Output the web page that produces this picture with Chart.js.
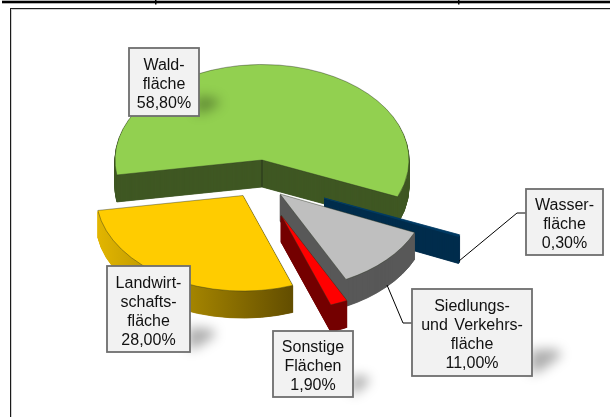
<!DOCTYPE html>
<html>
<head>
<meta charset="utf-8">
<style>html,body{margin:0;padding:0;background:#fff}canvas{display:block}</style>
<script src="https://cdn.jsdelivr.net/npm/chart.js@4"></script>
</head>
<body>
<canvas id="c" width="610" height="417"></canvas>
<script>
// Data
const categories = ["Waldfläche", "Wasserfläche", "Siedlungs- und Verkehrsfläche", "Sonstige Flächen", "Landwirtschaftsfläche"];
const values = [58.8, 0.3, 11.0, 1.9, 28.0];
const labelLines = [["Wald-", "fläche"], ["Wasser-", "fläche"], ["Siedlungs-", "und Verkehrs-", "fläche"], ["Sonstige", "Flächen"], ["Landwirt-", "schafts-", "fläche"]];

// Styling / layout
const topColors = ["#92d050", "#003a63", "#bfbfbf", "#ff0000", "#ffcc00"];
const sideColors = ["#3f5723", "#002d4d", "#595959", "#750000", null];
const sliceCenters = [[262, 160], [324, 198], [280, 194], [281, 215], [243, 195.5]];
const drawOrder = [0, 1, 2, 3, 4];
const depth = 27, tilt = 0.65;
const boxes = [[129, 48, 70, 68], [526, 189, 77, 66], [412, 289, 120, 87], [273, 331, 80, 66], [107, 266, 83, 86]];
const leaders = [null, [[459, 261], [517, 213], [526, 213]], [[387, 285], [403, 323], [412, 323]], null, null];
const shadows = [
  [[196, 96], [216, 98], [220, 104], [205, 112], [196, 114]],
  null,
  [[530, 350], [556, 349], [562, 355], [542, 370], [530, 374]],
  [[351, 376], [366, 376], [370, 381], [358, 392], [351, 394]],
  [[188, 327], [212, 329], [216, 335], [198, 347], [188, 350]]
];

function drawArcAt(ctx, arc, cx, cy, opts) {
  const saved = arc.options;
  arc.options = Object.assign({}, saved, opts);
  ctx.save();
  ctx.translate(cx, cy);
  ctx.scale(1, tilt);
  ctx.translate(-arc.x, -arc.y);
  arc.draw(ctx);
  ctx.restore();
  arc.options = saved;
}

const piePlugin = {
  id: "tiltedPie",
  beforeDraw(chart) {
    const ctx = chart.ctx;
    ctx.save();
    ctx.fillStyle = "#000";
    ctx.fillRect(2, 0.7, 608, 2.6);
    ctx.fillRect(155, 0, 1.5, 4.5);
    ctx.fillRect(458, 0, 1.5, 4.5);
    ctx.fillStyle = "#d0d0d0";
    ctx.fillRect(11, 9, 599, 1);
    ctx.fillRect(11, 9, 1, 408);
    ctx.fillStyle = "#1a1a1a";
    ctx.fillRect(10, 8, 600, 1);
    ctx.fillRect(10, 8, 1, 409);
    ctx.restore();
  },
  beforeDatasetDraw(chart) {
    const ctx = chart.ctx;
    const arcs = chart.getDatasetMeta(0).data;
    drawOrder.forEach(i => {
      const arc = arcs[i];
      const [cx, cy] = sliceCenters[i];
      let side = sideColors[i];
      if (!side) {
        side = ctx.createLinearGradient(arc.x - 147, 0, arc.x + 60, 0);
        side.addColorStop(0, "#e3b600");
        side.addColorStop(0.45, "#a58500");
        side.addColorStop(1, "#5c4800");
      }
      for (let d = depth; d >= 1; d -= 0.5) {
        drawArcAt(ctx, arc, cx, cy + d, { backgroundColor: side, borderColor: side, borderWidth: 1 });
      }
      const thin = values[i] < 1;
      drawArcAt(ctx, arc, cx, cy, thin ? { borderColor: topColors[i], borderWidth: 1 } : {});
    });
    // seam between the two inner walls of the largest slice
    const [gx, gy] = sliceCenters[0];
    ctx.save();
    ctx.strokeStyle = "#26351a";
    ctx.lineWidth = 1;
    ctx.beginPath();
    ctx.moveTo(gx, gy);
    ctx.lineTo(gx, gy + depth);
    ctx.stroke();
    ctx.restore();
    return false;
  },
  afterDraw(chart) {
    const ctx = chart.ctx;
    values.forEach((v, i) => {
      const [x, y, w, h] = boxes[i];
      ctx.save();
      if (shadows[i]) {
        ctx.filter = "blur(6px)";
        ctx.fillStyle = "rgba(0,0,0,0.32)";
        ctx.beginPath();
        shadows[i].forEach((p, k) => k ? ctx.lineTo(p[0], p[1]) : ctx.moveTo(p[0], p[1]));
        ctx.closePath();
        ctx.fill();
        ctx.filter = "none";
      }
      if (leaders[i]) {
        ctx.strokeStyle = "#000";
        ctx.lineWidth = 1;
        ctx.beginPath();
        leaders[i].forEach((p, k) => k ? ctx.lineTo(p[0], p[1]) : ctx.moveTo(p[0], p[1]));
        ctx.stroke();
      }
      ctx.fillStyle = "#f2f2f2";
      ctx.fillRect(x, y, w, h);
      ctx.strokeStyle = "#6e6e6e";
      ctx.lineWidth = 1.8;
      ctx.strokeRect(x, y, w, h);
      const lines = labelLines[i].concat(v.toFixed(2).replace(".", ",") + "%");
      ctx.fillStyle = "#111";
      ctx.font = '16px "Liberation Sans", Arial, sans-serif';
      ctx.wordSpacing = "2px";
      ctx.textAlign = "center";
      ctx.textBaseline = "alphabetic";
      const step = 19;
      let by = y + h / 2 - lines.length * step / 2 + 16.5;
      lines.forEach(t => { ctx.fillText(t, x + w / 2, by); by += step; });
      ctx.restore();
    });
  }
};

new Chart(document.getElementById("c"), {
  type: "pie",
  data: {
    labels: categories,
    datasets: [{
      data: values,
      backgroundColor: topColors,
      borderColor: "rgba(40,50,30,0.65)",
      borderWidth: 0.8
    }]
  },
  options: {
    responsive: false,
    animation: false,
    rotation: -99,
    radius: 147,
    layout: { padding: 0 },
    plugins: { legend: { display: false }, tooltip: { enabled: false } }
  },
  plugins: [piePlugin]
});
</script>
</body>
</html>
